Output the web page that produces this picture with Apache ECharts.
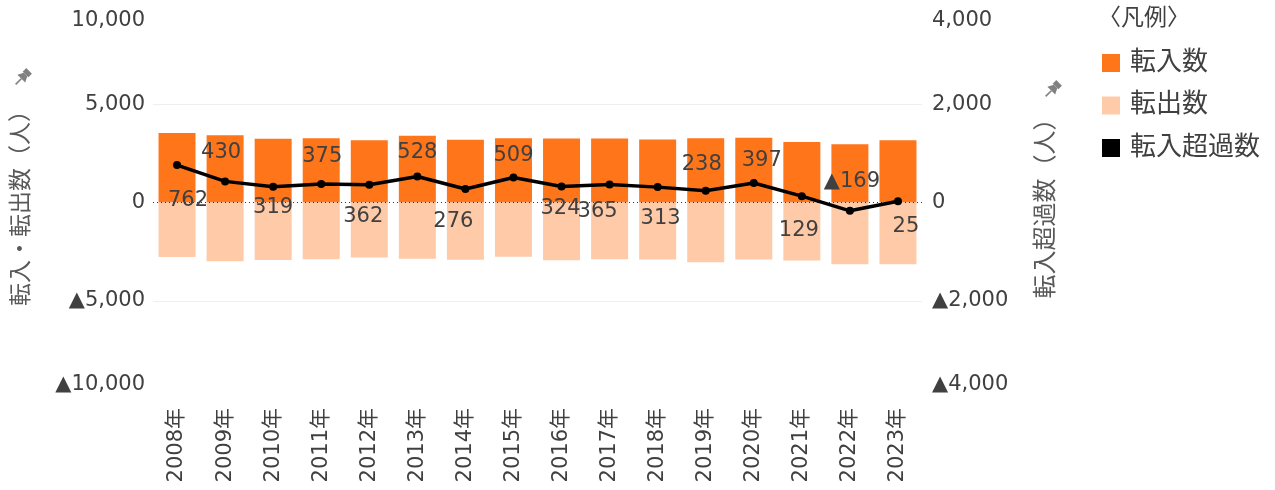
<!DOCTYPE html>
<html>
<head>
<meta charset="utf-8">
<script src="https://cdn.jsdelivr.net/npm/echarts@6/dist/echarts.min.js"></script>
<style>
  html, body { margin: 0; padding: 0; background: #fff; }
  #chart { width: 1275px; height: 490px; }
</style>
</head>
<body>
<div id="chart"></div>
<script>
// 年次
const years = ["2008年", "2009年", "2010年", "2011年", "2012年", "2013年", "2014年", "2015年",
  "2016年", "2017年", "2018年", "2019年", "2020年", "2021年", "2022年", "2023年"];
// 転入数・転出数（人）
const tennyu = [3537, 3422, 3239, 3267, 3166, 3394, 3192, 3265, 3260, 3255, 3210, 3275, 3296, 3085, 2970, 3168];
const tenshutsu = [2775, 2992, 2920, 2892, 2804, 2866, 2916, 2756, 2936, 2890, 2897, 3037, 2899, 2956, 3139, 3143];
// 転入超過数（人）
const choka = [762, 430, 319, 375, 362, 528, 276, 509, 324, 365, 313, 238, 397, 129, -169, 25];
// 目盛
const leftTicks = [-10000, -5000, 0, 5000, 10000];
const rightTicks = [-4000, -2000, 0, 2000, 4000];

const FONT = "'DejaVu Sans', 'Noto Sans CJK JP', sans-serif";
const TEXT = "#404040";

// ラベルの位置（点からのずらし）
const labelShift = [[11, 35], [-4, -29], [0, 21], [1, -28], [-6, 32], [0, -24], [-12, 33], [0, -22],
  [-1, 22], [-12, 27], [3, 31], [-4, -26], [8, -22], [-3, 34], [2, -29], [8, 25]];

function fmt(v) {
  const s = Math.abs(v).toLocaleString("en-US");
  return v < 0 ? "▲" + s : s;
}

function tickFormatter(ticks) {
  const lo = ticks[0], hi = ticks[ticks.length - 1];
  return function (v) {
    if (v === hi) return "{mx|" + fmt(v) + "}";
    if (v === lo) return "{mn|" + fmt(v) + "}";
    return fmt(v);
  };
}

const tickRich = {
  mx: { padding: [30, 0, 0, 0], fontSize: 21, color: TEXT, fontFamily: FONT },
  mn: { padding: [0, 0, 28, 0], fontSize: 21, color: TEXT, fontFamily: FONT }
};

function pin(x, y) {
  return {
    type: "group",
    x: x, y: y,
    rotation: -Math.PI / 4,
    children: [
      { type: "rect", shape: { x: -4, y: -10, width: 8, height: 5 }, style: { fill: "#808080" } },
      { type: "polygon", shape: { points: [[-2.5, -5], [2.5, -5], [5.5, 1], [-5.5, 1]] }, style: { fill: "#808080" } },
      { type: "line", shape: { x1: 0, y1: 1, x2: 0, y2: 9 }, style: { stroke: "#808080", lineWidth: 1.6 } }
    ]
  };
}

const chart = echarts.init(document.getElementById("chart"));
chart.setOption({
  animation: false,
  textStyle: { fontFamily: FONT },
  title: {
    text: "〈凡例〉",
    left: 1098, top: 8, padding: 0,
    textStyle: { fontSize: 23, fontWeight: "normal", color: TEXT, fontFamily: FONT }
  },
  legend: {
    orient: "vertical",
    left: 1102, top: 50, padding: 0,
    itemWidth: 18, itemHeight: 18, itemGap: 16.5,
    icon: "rect",
    textStyle: { fontSize: 26, color: TEXT, fontFamily: FONT, padding: [0, 0, 0, 5] },
    data: ["転入数", "転出数", "転入超過数"]
  },
  grid: { left: 153, right: 353, top: 6, bottom: 91 },
  graphic: [pin(22, 78), pin(1052, 90)],
  xAxis: {
    type: "category",
    data: years,
    axisLine: { show: false },
    axisTick: { show: false },
    axisLabel: { rotate: 90, interval: 0, fontSize: 21, color: TEXT, margin: 9, fontFamily: FONT }
  },
  yAxis: [
    {
      type: "value",
      min: leftTicks[0], max: leftTicks[leftTicks.length - 1], interval: leftTicks[1] - leftTicks[0],
      name: "転入・転出数（人）",
      nameLocation: "middle", nameRotate: 90, nameGap: 119,
      nameTextStyle: { fontSize: 23, color: "#595959", fontFamily: FONT, padding: [0, 0, 0, 0] },
      axisLine: { show: false }, axisTick: { show: false },
      axisLabel: { fontSize: 21, color: TEXT, margin: 8, formatter: tickFormatter(leftTicks), rich: tickRich },
      splitLine: { lineStyle: { color: ["transparent", "#efefef", "transparent", "#efefef", "transparent"] } }
    },
    {
      type: "value",
      min: rightTicks[0], max: rightTicks[rightTicks.length - 1], interval: rightTicks[1] - rightTicks[0],
      name: "転入超過数（人）",
      nameLocation: "middle", nameRotate: 90, nameGap: 113,
      nameTextStyle: { fontSize: 24, color: "#595959", fontFamily: FONT },
      axisLine: { show: false }, axisTick: { show: false },
      axisLabel: { fontSize: 21, color: TEXT, margin: 10, formatter: tickFormatter(rightTicks), rich: tickRich },
      splitLine: { show: false }
    }
  ],
  series: [
    {
      // 0 の点線（棒の下）
      type: "line", data: [], z: 1, silent: true,
      markLine: {
        symbol: "none", silent: true, label: { show: false },
        lineStyle: { type: [1, 3], color: "#333", width: 1 },
        data: [{ yAxis: 0 }]
      }
    },
    {
      name: "転入数", type: "bar", data: tennyu,
      barWidth: 37, barGap: "-100%", z: 2,
      itemStyle: { color: "#FF751A" }
    },
    {
      name: "転出数", type: "bar", data: tenshutsu.map(v => -v),
      barWidth: 37, barGap: "-100%", z: 2,
      itemStyle: { color: "#FFCAA8" }
    },
    {
      name: "転入超過数", type: "line", yAxisIndex: 1, z: 5,
      data: choka.map((v, i) => ({ value: v, label: { offset: labelShift[i] } })),
      symbol: "circle", symbolSize: 8,
      lineStyle: { color: "#000", width: 3.5 },
      itemStyle: { color: "#000" },
      label: {
        show: true, position: "inside", fontSize: 21, color: TEXT, fontFamily: FONT,
        formatter: p => fmt(p.value)
      }
    }
  ]
});
</script>
</body>
</html>
